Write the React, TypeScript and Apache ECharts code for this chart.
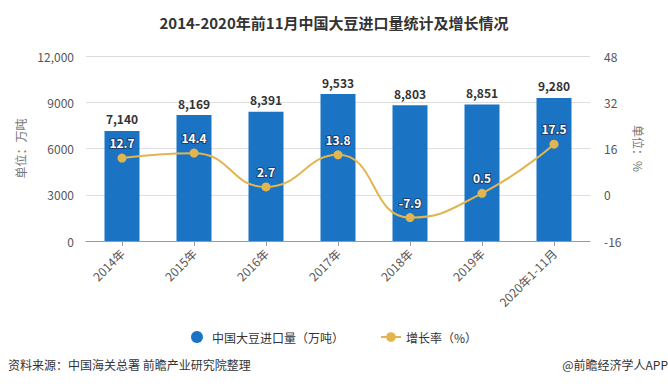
import React, { useEffect, useRef } from "react";
import * as echarts from "echarts";

const categories = ["2014年", "2015年", "2016年", "2017年", "2018年", "2019年", "2020年1-11月"];
const importVolume = [7140, 8169, 8391, 9533, 8803, 8851, 9280];
const growthRate = [12.7, 14.4, 2.7, 13.8, -7.9, 0.5, 17.5];
const barName = "中国大豆进口量（万吨）";
const lineName = "增长率（%）";
const titleText = "2014-2020年前11月中国大豆进口量统计及增长情况";
const sourceText = "资料来源：中国海关总署 前瞻产业研究院整理";
const brandText = "@前瞻经济学人APP";

const FONT = "'Noto Sans CJK SC', 'Noto Sans', sans-serif";

export default function App() {
  const ref = useRef<HTMLDivElement>(null);
  useEffect(() => {
    if (!ref.current) return;
    const chart = echarts.init(ref.current, undefined, { renderer: "svg" });
    chart.setOption({
      animation: false,
      textStyle: { fontFamily: FONT },
      title: {
        text: titleText,
        left: "center",
        top: 10,
        textStyle: { fontSize: 15, fontWeight: "bold", color: "#333", fontFamily: FONT },
      },
      legend: {
        bottom: 42,
        left: "center",
        itemGap: 36,
        itemWidth: 20,
        itemHeight: 12,
        textStyle: { fontSize: 12, color: "#333", fontFamily: FONT },
        data: [
          { name: barName, icon: "circle" },
          { name: lineName },
        ],
      },
      grid: { left: 86, right: 78, top: 56, bottom: 149 },
      xAxis: {
        type: "category",
        data: categories,
        axisLine: { lineStyle: { color: "#999" } },
        axisTick: { show: true, alignWithLabel: true, lineStyle: { color: "#999" } },
        axisLabel: { rotate: 45, color: "#555", fontSize: 12, margin: 10, fontFamily: FONT },
      },
      yAxis: [
        {
          type: "value",
          min: 0,
          max: 12000,
          interval: 3000,
          name: "单位：万吨",
          nameLocation: "middle",
          nameGap: 50,
          nameRotate: 90,
          nameTextStyle: { color: "#777", fontSize: 12, fontFamily: FONT },
          axisLine: { show: false },
          axisTick: { show: false },
          axisLabel: {
            color: "#555",
            fontSize: 12,
            margin: 12,
            formatter: (v: number) => (v >= 10000 ? v.toLocaleString("en-US") : String(v)),
          },
          splitLine: { lineStyle: { color: "#ddd" } },
        },
        {
          type: "value",
          min: -16,
          max: 48,
          interval: 16,
          name: "单位：%",
          nameLocation: "middle",
          nameGap: 40,
          nameRotate: -90,
          nameTextStyle: { color: "#777", fontSize: 12, fontFamily: FONT },
          axisLine: { show: false },
          axisTick: { show: false },
          axisLabel: { color: "#555", fontSize: 12, margin: 14 },
          splitLine: { show: false },
        },
      ],
      series: [
        {
          name: barName,
          type: "bar",
          data: importVolume,
          barWidth: 35,
          itemStyle: { color: "#1a74c3" },
          label: {
            show: true,
            position: "top",
            distance: 6,
            color: "#333",
            fontSize: 12,
            fontWeight: "bold",
            formatter: (p: any) => Number(p.value).toLocaleString("en-US"),
          },
        },
        {
          name: lineName,
          type: "line",
          yAxisIndex: 1,
          data: growthRate,
          smooth: true,
          symbol: "circle",
          symbolSize: 9,
          itemStyle: { color: "#e3b54e" },
          lineStyle: { color: "#e3b54e", width: 2 },
          label: {
            show: true,
            position: "top",
            distance: 5,
            color: "#fff",
            fontSize: 12,
            fontWeight: "bold",
            textBorderColor: "#1b3f6e",
            textBorderWidth: 2,
          },
        },
      ],
      graphic: [
        {
          type: "text",
          left: 8,
          top: 358,
          style: { text: sourceText, fontSize: 12, fill: "#333", fontFamily: FONT },
        },
        {
          type: "text",
          right: 0,
          top: 358,
          style: { text: brandText, fontSize: 12, fill: "#333", fontFamily: FONT },
        },
      ],
    });
    return () => chart.dispose();
  }, []);
  return (
    <div
      ref={ref}
      style={{ position: "absolute", left: 0, top: 0, width: 668, height: 390 }}
    />
  );
}
